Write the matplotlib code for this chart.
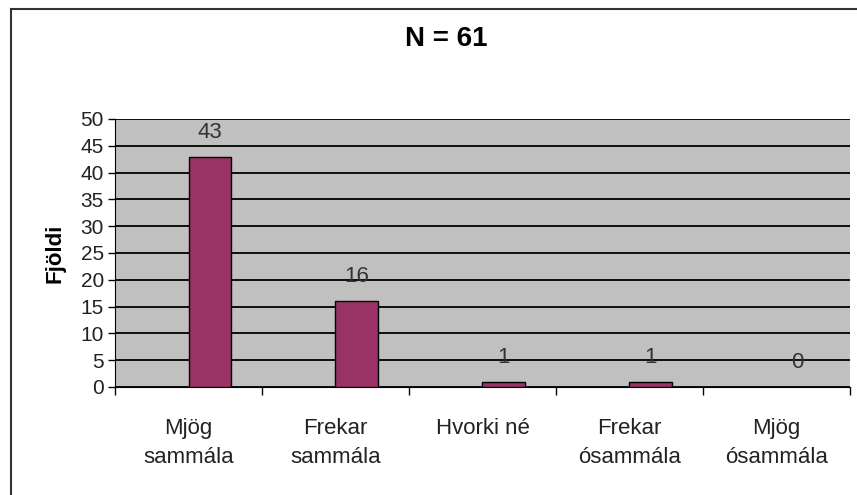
import numpy as np
import matplotlib.pyplot as plt
from matplotlib.lines import Line2D

plt.rcParams['font.family'] = ['Liberation Sans', 'DejaVu Sans']

# Survey answers (Icelandic Likert scale)
categories = ["Mjög\nsammála", "Frekar\nsammála", "Hvorki né", "Frekar\nósammála", "Mjög\nósammála"]
counts = [43, 16, 1, 1, 0]
n_total = 61

fig = plt.figure(figsize=(8.57, 4.95), dpi=100)
ax = fig.add_axes([0.1342, 0.2182, 0.8576, 0.5414])
ax.set_facecolor("#c0c0c0")

x = np.arange(len(categories))
bars = ax.bar(x, counts, width=0.29, align="edge", color="#993366",
              edgecolor="black", linewidth=1.0, zorder=3)

for rect, v in zip(bars, counts):
    ax.annotate(str(v), (rect.get_x() + rect.get_width() / 2, v),
                xytext=(0, 10), textcoords="offset points",
                ha="center", va="bottom", fontsize=16, color="#333333")

ax.set_xlim(-0.5, len(categories) - 0.5)
ax.set_ylim(0, 50)
ax.set_yticks(np.arange(0, 51, 5))
ax.yaxis.grid(True, color="black", linewidth=1.3, zorder=1)
ax.set_axisbelow(True)

# category labels between boundary ticks
ax.set_xticks(x)
ax.set_xticklabels(categories, fontsize=16, linespacing=1.5, color="#222222")
ax.tick_params(axis="x", length=0, pad=22)
ax.set_xticks(np.arange(-0.5, len(categories)), minor=True)
ax.tick_params(axis="x", which="minor", length=6, width=1, color="black")
ax.tick_params(axis="y", length=5, width=1, labelsize=15, pad=3, labelcolor="#222222")

for side in ("top", "right"):
    ax.spines[side].set_visible(False)
ax.spines["left"].set_color("black")
ax.spines["bottom"].set_color("black")

ax.set_ylabel("Fjöldi", fontsize=16, fontweight="bold", labelpad=11)
fig.text(446 / 857, 1 - 39 / 495, f"N = {n_total}", ha="center", va="center",
         fontsize=20, fontweight="bold")

# frame lines along the top and left edge of the figure
fig.add_artist(Line2D([11 / 857, 11 / 857], [0, 1 - 9 / 495], color="#333333", linewidth=1.5))
fig.add_artist(Line2D([11 / 857, 1], [1 - 9 / 495, 1 - 9 / 495], color="#333333", linewidth=1.5))

fig.savefig("out.png", dpi=100)
